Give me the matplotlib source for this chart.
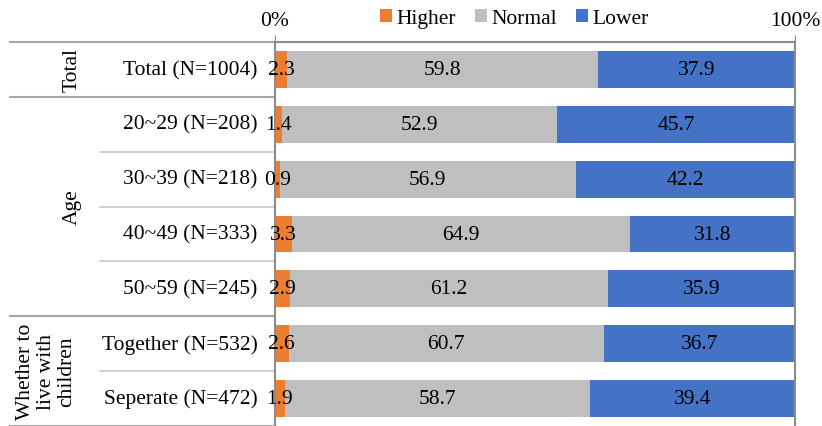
import matplotlib.pyplot as plt
import numpy as np

plt.rcParams['font.family'] = ['Liberation Serif', 'DejaVu Serif']

rows = ['Total (N=1004)', '20~29 (N=208)', '30~39 (N=218)', '40~49 (N=333)',
        '50~59 (N=245)', 'Together (N=532)', 'Seperate (N=472)']
higher = [2.3, 1.4, 0.9, 3.3, 2.9, 2.6, 1.9]
normal = [59.8, 52.9, 56.9, 64.9, 61.2, 60.7, 58.7]
lower = [37.9, 45.7, 42.2, 31.8, 35.9, 36.7, 39.4]
series = ['Higher', 'Normal', 'Lower']
colors = ['#ED7D31', '#BFBFBF', '#4472C4']

# groups: (label, first row, last row)
groups = [('Total', 0, 0), ('Age', 1, 4), ('Whether to\nlive with\nchildren', 5, 6)]

FS = 15.5

fig = plt.figure(figsize=(8.22, 4.27), dpi=100)
ax = fig.add_axes([275 / 822, 0, 520 / 822, 1 - 43 / 427])

y = np.arange(len(rows))
left = np.zeros(len(rows))
for vals, name, c in zip([higher, normal, lower], series, colors):
    vals = np.array(vals)
    ax.barh(y, vals, left=left, height=0.67, color=c, label=name)
    for yi, l, v in zip(y, left, vals):
        ax.text(l + v / 2, yi, f'{v:.1f}', ha='center', va='center', fontsize=FS)
    left += vals

ax.set_xlim(0, 100)
ax.set_ylim(len(rows) - 0.5, -0.5)
ax.set_yticks([])
ax.xaxis.tick_top()
ax.set_xticks([0, 100])
ax.set_xticklabels(['0%', '100%'], fontsize=FS)
ax.tick_params(axis='x', length=5, color='#8c8c8c', pad=4)
for s in ['top', 'left', 'right']:
    ax.spines[s].set_color('#8c8c8c')
    ax.spines[s].set_linewidth(1.5)
ax.spines['bottom'].set_visible(False)

# row labels
tr = ax.get_yaxis_transform()
for yi, r in zip(y, rows):
    ax.text(-0.033, yi, r, transform=tr, ha='right', va='center', fontsize=FS)

# label column lines
ax.plot([-0.51, 0], [-0.5, -0.5], transform=tr, color='#a6a6a6', lw=1.5, clip_on=False)
for name, a, b in groups:
    ax.plot([-0.51, 0], [b + 0.5, b + 0.5], transform=tr, color='#a6a6a6', lw=1.5, clip_on=False)
    for k in range(a, b):
        ax.plot([-0.337, 0], [k + 0.5, k + 0.5], transform=tr, color='#c8c8c8', lw=1.2, clip_on=False)
    xpos = -0.39 if '\n' not in name else -0.44
    ax.text(xpos, (a + b) / 2, name, transform=tr, rotation=90, ha='center',
            va='center', fontsize=FS, linespacing=1.1)

ax.legend(loc='center', bbox_to_anchor=(0.46, 1.062), ncol=3, frameon=False,
          fontsize=FS, handlelength=0.55, handleheight=0.55, handletextpad=0.2,
          columnspacing=0.9, borderaxespad=0)

fig.savefig('out.png', dpi=100)
